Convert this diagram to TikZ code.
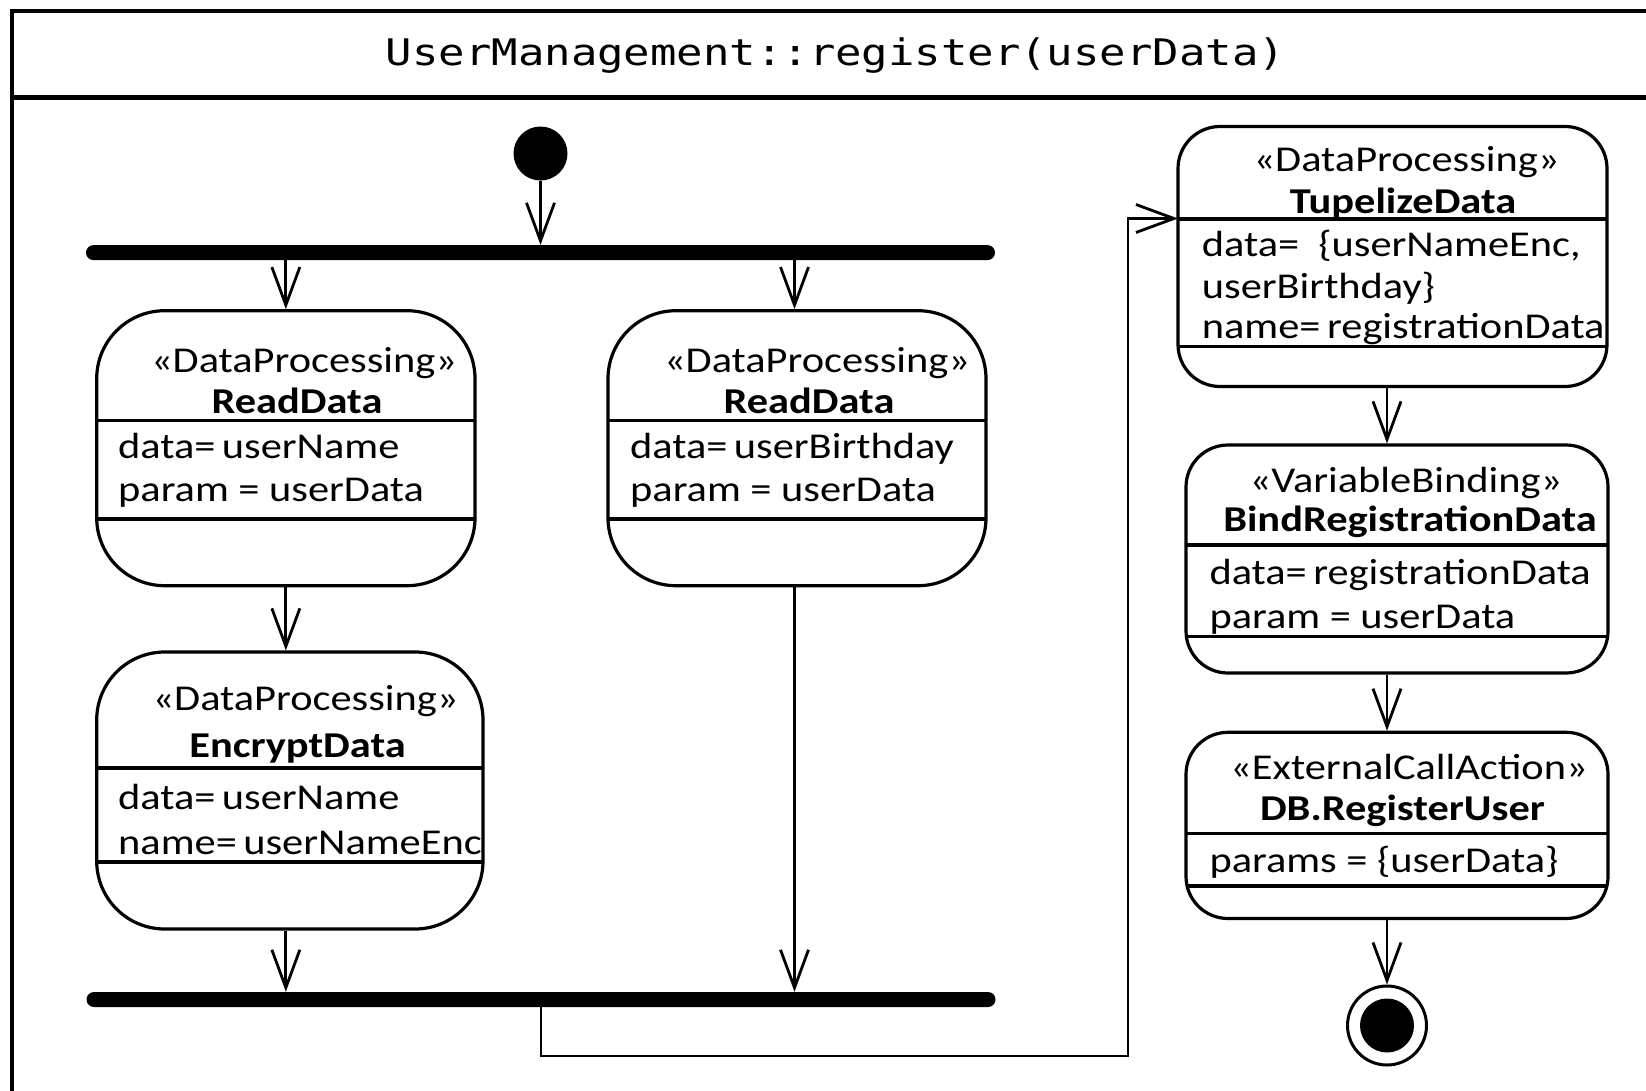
\documentclass[tikz,border=0pt]{standalone}
\usepackage{fontspec}
\setmainfont{Carlito}[FakeStretch=1.165]
\newfontfamily\framefont{DejaVu Sans Mono}[FakeStretch=1.2]
\usetikzlibrary{arrows.meta}
% tight gap after an "=" in the attribute compartments
\newcommand{\tighteq}{=\hspace{6.5pt}}

\begin{document}
\begin{tikzpicture}[x=1pt,y=-1pt,
  frame/.style={line width=4.5pt},
  action/.style={draw, line width=3.2pt, rectangle, inner sep=0pt},
  bigaction/.style={action, rounded corners=68pt},
  smallaction/.style={action, rounded corners=42pt},
  compartment/.style={line width=3.2pt},
  stereo/.style={anchor=base, inner sep=0pt, font=\fontsize{36.4}{42}\selectfont},
  aname/.style={anchor=base, inner sep=0pt, font=\fontsize{36.4}{42}\selectfont\bfseries},
  attr/.style={anchor=base west, inner sep=0pt, font=\fontsize{36.4}{42}\selectfont},
  bar/.style={fill=black, rounded corners=7.5pt, minimum height=15pt, minimum width=909pt, inner sep=0pt},
  flow/.style={line width=2.8pt, -{Straight Barb[length=38pt,width=28pt]}},
]
\useasboundingbox (0,0) rectangle (1646,1090);

% activity frame with its name compartment
\draw[frame] (12,11) rectangle (1672,1102);
\draw[frame] (12,97.5) -- (1672,97.5);
\node[anchor=base, inner sep=0pt, font=\framefont\fontsize{36.6}{44}\selectfont]
  (title) at (835.5,65) {UserManagement::register(userData)};

% initial node, fork and join bars
\node[circle, fill=black, minimum size=54pt, inner sep=0pt] (init) at (540.5,153.5) {};
\node[bar] (fork) at (540.5,252.6) {};
\node[bar] (join) at (541,999.5) {};

% ---- left branch: ReadData (userName)
\node[bigaction, minimum width=378.3pt, minimum height=275pt] (rd1) at (285.85,448.2) {};
\draw[compartment] (96.7,420.5) -- (475,420.5);
\draw[compartment] (96.7,519) -- (475,519);
\node[stereo] (rd1st) at (304,372.5) {«DataProcessing»};
\node[aname]  (rd1nm) at (297,413.5) {ReadData};
\node[attr]   (rd1a)  at (118,458)   {data\tighteq userName};
\node[attr]   (rd1b)  at (118,501.5) {param = userData};

% ---- middle branch: ReadData (userBirthday)
\node[bigaction, minimum width=378pt, minimum height=275pt] (rd2) at (797,448.2) {};
\draw[compartment] (608,420.5) -- (986,420.5);
\draw[compartment] (608,519) -- (986,519);
\node[stereo] (rd2st) at (817,372.5) {«DataProcessing»};
\node[aname]  (rd2nm) at (809,413.5) {ReadData};
\node[attr]   (rd2a)  at (630,458)   {data\tighteq userBirthday};
\node[attr]   (rd2b)  at (630,501.5) {param = userData};
\coordinate (rd2in)  at ([xshift=-2.5pt]rd2.north);
\coordinate (rd2out) at ([xshift=-2.5pt]rd2.south);

% ---- EncryptData
\node[bigaction, minimum width=386.3pt, minimum height=277pt] (enc) at (289.85,790.5) {};
\draw[compartment] (96.7,768) -- (483,768);
\draw[compartment] (96.7,862) -- (483,862);
\node[stereo] (encst) at (305.5,710)   {«DataProcessing»};
\node[aname]  (encnm) at (297.5,757)   {EncryptData};
\node[attr]   (enca)  at (118,809.5)   {data\tighteq userName};
\node[attr]   (encb)  at (118,854)     {name\tighteq userNameEnc};

% ---- right column: TupelizeData
\node[smallaction, minimum width=429pt, minimum height=260pt] (tup) at (1392.5,256.5) {};
\draw[compartment] (1178,219) -- (1607,219);
\draw[compartment] (1178,346.7) -- (1607,346.7);
\node[stereo] (tupst) at (1406.5,171)  {«DataProcessing»};
\node[aname]  (tupnm) at (1403,213.3)  {TupelizeData};
\node[attr]   (tupa)  at (1201.7,256)  {data=\ \ \{userNameEnc,};
\node[attr]   (tupb)  at (1201.7,298)  {userBirthday\}};
\node[attr]   (tupc)  at (1201.7,338)  {name\tighteq registrationData};

% ---- BindRegistrationData
\node[smallaction, minimum width=422pt, minimum height=228pt] (bind) at (1397,559) {};
\draw[compartment] (1186,545) -- (1608,545);
\draw[compartment] (1186,636.7) -- (1608,636.7);
\node[stereo] (bindst) at (1406,492) {«VariableBinding»};
\node[aname]  (bindnm) at (1410,531.5) {BindRegistrationData};
\node[attr]   (binda)  at (1209.3,584.5) {data\tighteq registrationData};
\node[attr]   (bindb)  at (1209.3,628) {param = userData};

% ---- DB.RegisterUser
\node[smallaction, minimum width=422pt, minimum height=186.2pt] (db) at (1397,825.4) {};
\draw[compartment] (1186,833.3) -- (1608,833.3);
\draw[compartment] (1186,886) -- (1608,886);
\node[stereo] (dbst) at (1409,779.5)   {«ExternalCallAction»};
\node[aname]  (dbnm) at (1402.5,820) {DB.RegisterUser};
\node[attr]   (dba)  at (1209.3,872.5) {params = \{userData\}};

% final node
\node[circle, draw, line width=3pt, minimum size=79pt, inner sep=0pt] (fin) at (1387,1025.5) {};
\node[circle, fill=black, minimum size=54pt, inner sep=0pt] (findot) at (fin.center) {};

% control flows
\draw[flow] (init) -- (fork.north);
\draw[flow] (fork.south -| rd1.north) -- (rd1.north);
\draw[flow] (fork.south -| rd2in) -- (rd2in);
\draw[flow] (rd1.south) -- (rd1.south |- enc.north);
\draw[flow] (enc.south -| rd1.south) -- (join.north -| rd1.south);
\draw[flow] (rd2out) -- (rd2out |- join.north);

\coordinate (loopA) at (541,1056);
\coordinate (loopB) at (1128,1056);
\coordinate (tupIn) at (1178,218.5);
\draw[flow] (join.south) -- (loopA) -- (loopB) |- (tupIn);

\draw[flow] (tup.south -| fin) -- (bind.north -| fin);
\draw[flow] (bind.south -| fin) -- (db.north -| fin);
\draw[flow] (db.south -| fin) -- (fin.north);
\end{tikzpicture}
\end{document}
